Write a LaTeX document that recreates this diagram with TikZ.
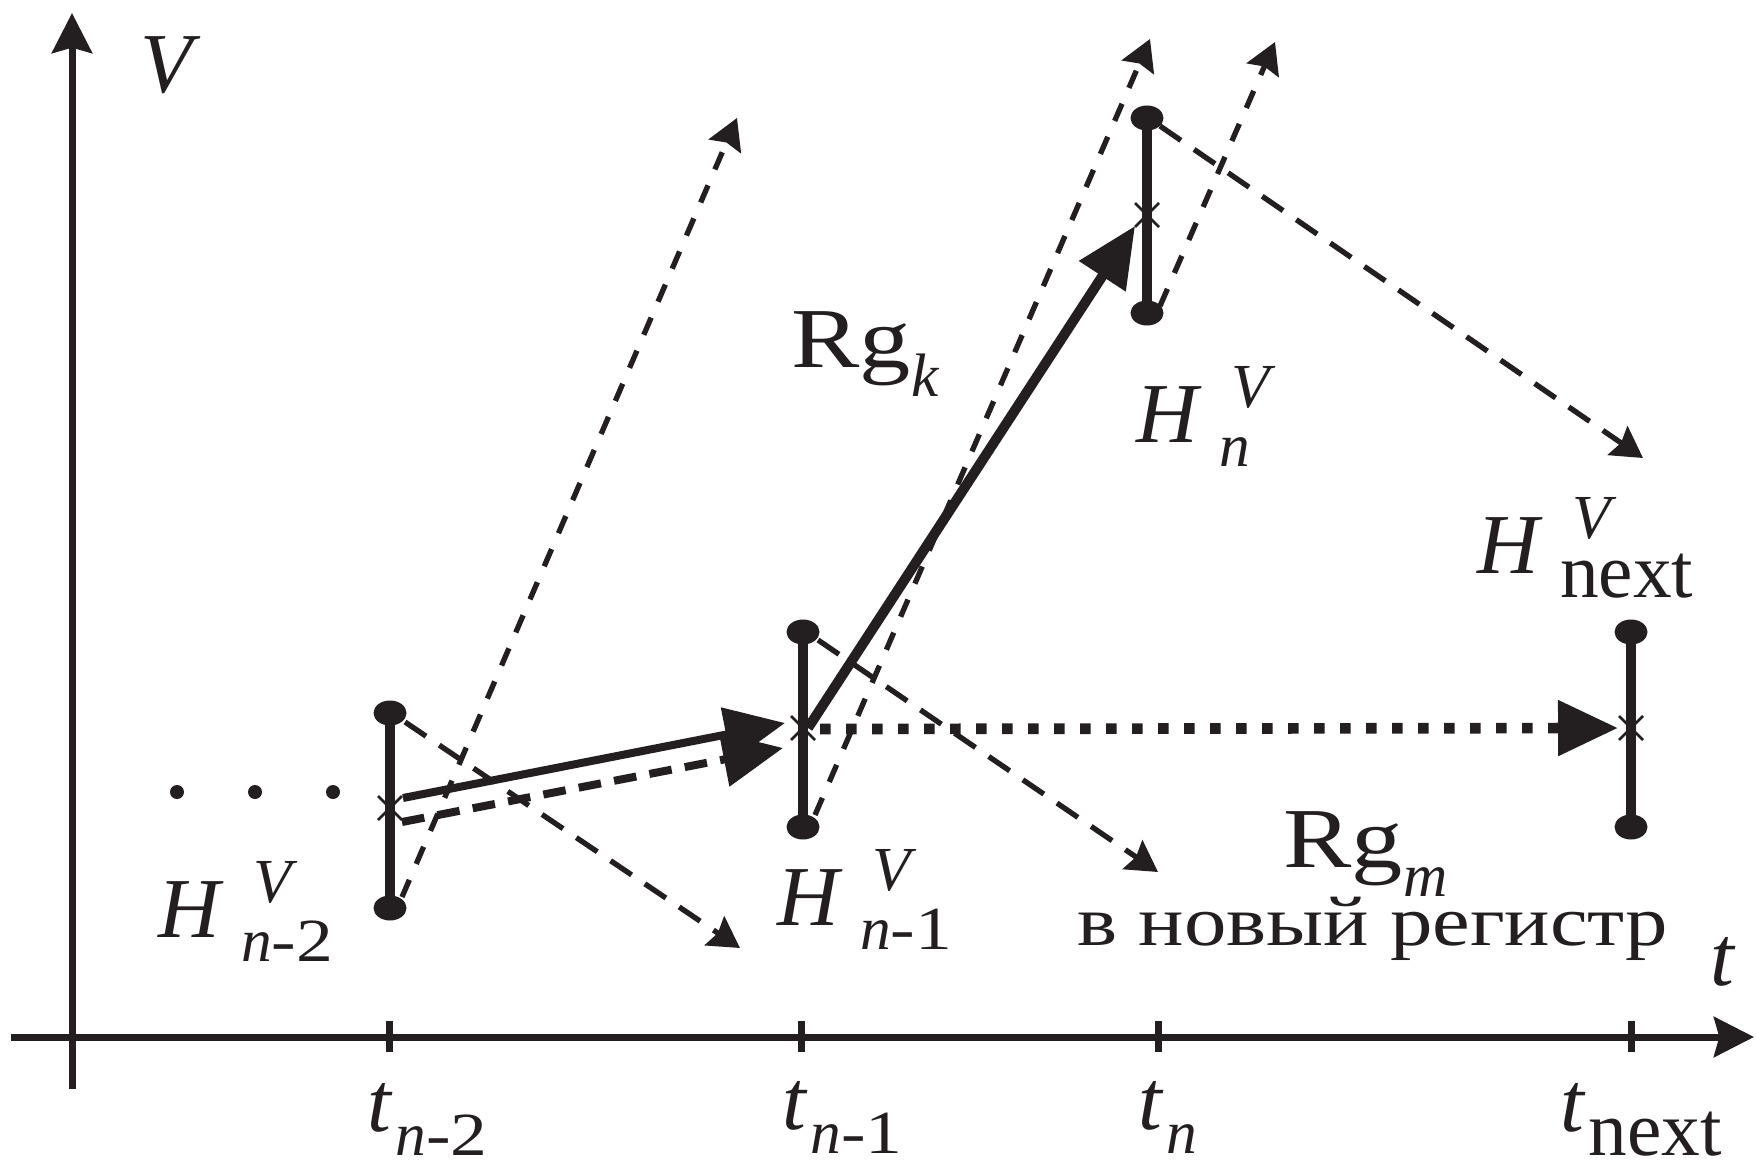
\documentclass[tikz,border=0pt]{standalone}
\usepackage{fontspec}
\setmainfont{Liberation Serif}
\newfontfamily\widefont{Liberation Serif}[FakeStretch=1.2]
\usetikzlibrary{arrows.meta,shapes.misc}

\definecolor{ink}{RGB}{35,31,32}

\newcommand{\bigsize}{\fontsize{64}{70}\selectfont}
\newcommand{\supsize}{\fontsize{47}{50}\selectfont}
\newcommand{\subsize}{\fontsize{46}{48}\selectfont}
\newcommand{\nxt}{\fontsize{58}{60}\selectfont next}
\newcommand{\nsub}[1]{\subsize\textit{n}{\widefont #1}}
\newcommand{\hlab}[1]{\textit{H}\rlap{\kern0.35em\raisebox{0.41em}{\supsize\textit{V}}}\kern0.2em\raisebox{-0.29em}{#1}}
\newcommand{\tlab}[1]{\textit{t}\kern0.03em\raisebox{-0.29em}{#1}}
\newcommand{\rglab}[1]{{\widefont Rg}\raisebox{-0.34em}{\subsize\textit{#1}}}

\tikzset{every picture/.style={line width=0.75pt}}
\tikzset{
  axisline/.style={ink, line width=5.25pt, -{Stealth[length=30pt,width=30pt,inset=4pt]}},
  tickmark/.style={ink, line width=5.25pt},
  errbar/.style={ink, line width=7.5pt},
  enddot/.style={fill=ink},
  xmark/.style={draw=ink, cross out, line width=2pt, minimum size=16pt, inner sep=0pt},
  bndline/.style={ink, line width=4pt, dash pattern=on 14pt off 13pt, -{Stealth[length=23pt,width=26pt,inset=3pt]}},
  bndlong/.style={bndline, dash pattern=on 19pt off 12pt},
  bigtip/.style={ink, -{Triangle[length=45pt,width=40pt]}},
  lbl/.style={anchor=base west, inner sep=0pt, text=ink, font=\bigsize},
}

\begin{document}
\begin{tikzpicture}[x=0.75pt,y=0.75pt,yscale=-1,xscale=1]
\useasboundingbox (0,0) rectangle (1756,1163);

%Interval ends (top, middle, bottom)
\coordinate (b1t) at (390,713);  \coordinate (b1m) at (390,808);  \coordinate (b1b) at (390,908);
\coordinate (b2t) at (803,632);  \coordinate (b2m) at (803,728);  \coordinate (b2b) at (803,827);
\coordinate (b3t) at (1147,118); \coordinate (b3m) at (1147,215); \coordinate (b3b) at (1147,313);
\coordinate (b4t) at (1631,632); \coordinate (b4m) at (1631,728); \coordinate (b4b) at (1631,827);

%Axes
\coordinate (vfoot) at (72,1089);
\coordinate (vhead) at (72,13);
\coordinate (tfoot) at (11,1037);
\coordinate (thead) at (1754,1037);
\draw [axisline] (vfoot) -- (vhead);
\draw [axisline] (tfoot) -- (thead);

%Ticks
\draw [tickmark] (389,1021) -- (389,1052);
\draw [tickmark] (801,1021) -- (801,1052);
\draw [tickmark] (1158,1021) -- (1158,1052);
\draw [tickmark] (1631,1021) -- (1631,1052);

%Leading dots
\fill [ink] (177,792) circle [radius=7];
\fill [ink] (255,792) circle [radius=7];
\fill [ink] (333,792) circle [radius=7];

%Bounds: dashed thin lines
\coordinate (u1s) at (402,897);  \coordinate (u1e) at (737,118);
\coordinate (d1s) at (405,722);  \coordinate (d1e) at (740,948);
\coordinate (u2s) at (815,815);  \coordinate (u2e) at (1150,39);
\coordinate (d2s) at (818,640);  \coordinate (d2e) at (1158,872);
\coordinate (u3s) at (1160,306); \coordinate (u3e) at (1275,42);
\coordinate (d3s) at (1160,126); \coordinate (d3e) at (1643,458);
\draw [bndline] (u1s) -- (u1e);
\draw [bndlong] (d1s) -- (d1e);
\draw [bndline] (u2s) -- (u2e);
\draw [bndlong] (d2s) -- (d2e);
\draw [bndline] (u3s) -- (u3e);
\draw [bndlong] (d3s) -- (d3e);

%Thick arrows
\coordinate (a1s) at (403,798); \coordinate (a1e) at (785,723);
\coordinate (a2s) at (402,822); \coordinate (a2e) at (783,748);
\coordinate (a3s) at (808,728); \coordinate (a3e) at (1135,226);
\coordinate (a4s) at (820,729); \coordinate (a4e) at (1618,728);
\draw [bigtip, line width=6pt] (a1s) -- (a1e);
\draw [bigtip, line width=6pt, dash pattern=on 17pt off 10pt] (a2s) -- (a2e);
\draw [bigtip, line width=7.5pt] (a3s) -- (a3e);
\draw [bigtip, line width=8pt, dash pattern=on 8pt off 11.5pt] (a4s) -- (a4e);

%Intervals
\draw [errbar] (b1t) -- (b1b);
\draw [errbar] (b2t) -- (b2b);
\draw [errbar] (b3t) -- (b3b);
\draw [errbar] (b4t) -- (b4b);
\fill [enddot] (b1t) ellipse [x radius=16.5, y radius=12.5];
\fill [enddot] (b1b) ellipse [x radius=16.5, y radius=12.5];
\fill [enddot] (b2t) ellipse [x radius=16.5, y radius=12.5];
\fill [enddot] (b2b) ellipse [x radius=16.5, y radius=12.5];
\fill [enddot] (b3t) ellipse [x radius=16.5, y radius=12.5];
\fill [enddot] (b3b) ellipse [x radius=16.5, y radius=12.5];
\fill [enddot] (b4t) ellipse [x radius=16.5, y radius=12.5];
\fill [enddot] (b4b) ellipse [x radius=16.5, y radius=12.5];
\node [xmark] (x1) at (b1m) {};
\node [xmark] (x2) at (b2m) {};
\node [xmark] (x3) at (b3m) {};
\node [xmark] (x4) at (b4m) {};

% Text Nodes
\node [lbl] (vlab) at (140,93) {\textit{V}};
\node [lbl] (tlab) at (1710,985) {\textit{t}};
\node [lbl] (rgk) at (791,367) {\rglab{k}};
\node [lbl] (rgm) at (1283,867) {\rglab{m}};
\node [lbl] (newreg) at (1077,945) {\widefont\fontsize{53}{60}\selectfont в новый регистр};
\node [lbl] (hn2) at (158,937) {\hlab{\nsub{-2}}};
\node [lbl] (hn1) at (777,925) {\hlab{\nsub{-1}}};
\node [lbl] (hn) at (1136,442) {\hlab{\nsub{}}};
\node [lbl] (hnext) at (1477,573) {\hlab{\nxt}};
\node [lbl] (tn2) at (367,1131) {\tlab{\nsub{-2}}};
\node [lbl] (tn1) at (782,1129) {\tlab{\nsub{-1}}};
\node [lbl] (tn) at (1138,1129) {\tlab{\nsub{}}};
\node [lbl] (tnext) at (1560,1131) {\tlab{\nxt}};

\end{tikzpicture}
\end{document}
